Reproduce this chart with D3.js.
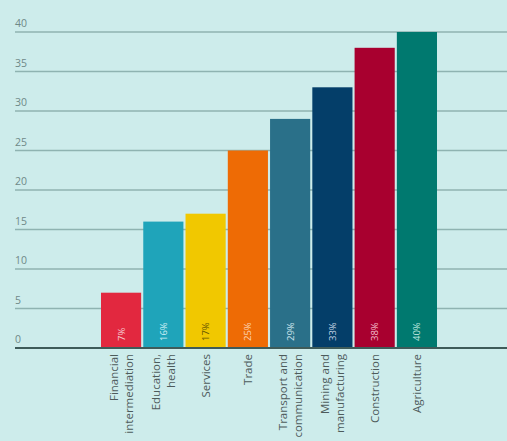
<!DOCTYPE html>
<html><head><meta charset="utf-8">
<script src="https://cdn.jsdelivr.net/npm/d3@7"></script>
<style>html,body{margin:0;padding:0;background:#cdeceb;}svg{display:block;}</style>
</head><body>
<script>
const categories = [["Financial","intermediation"],["Education,","health"],["Services"],["Trade"],["Transport and","communication"],["Mining and","manufacturing"],["Construction"],["Agriculture"]];
const values = [7,16,17,25,29,33,38,40];
const valueLabels = ["7%","16%","17%","25%","29%","33%","38%","40%"];
const colors = ["#e2283f","#1fa4ba","#f1c800","#ee6b05","#2a7089","#043e69","#a8002f","#00796f"];
const labelColors = ["#f6c9cf","#cdeef3","#6a5a00","#fcd3b5","#cfe6ee","#c3d3e3","#f3bfcb","#bfe6df"];
const ticks = [0,5,10,15,20,25,30,35,40];

const W=507,H=441;
const svg=d3.select("body").append("svg").attr("width",W).attr("height",H);
svg.append("rect").attr("width",W).attr("height",H).attr("fill","#cdeceb");

const y=d3.scaleLinear().domain([0,40]).range([348,32]);
const x=d3.scaleBand().domain(d3.range(values.length)).range([101,437]).paddingInner(0.05).paddingOuter(0);

const g=svg.append("g");
const font="'Open Sans', sans-serif";
// gridlines
g.selectAll("line.grid").data(ticks.filter(t=>t>0)).join("line")
 .attr("x1",15).attr("x2",W).attr("y1",d=>y(d)).attr("y2",d=>y(d))
 .attr("stroke","#8fb3b1").attr("stroke-width",1.4);
g.selectAll("text.tick").data(ticks).join("text")
 .attr("x",15).attr("y",d=>y(d)-5).text(d=>d)
 .attr("font-family",font).attr("font-size",10.5).attr("fill","#6f8988");

// bars
g.selectAll("rect.bar").data(values).join("rect")
 .attr("x",(d,i)=>x(i)).attr("width",x.bandwidth())
 .attr("y",d=>y(d)).attr("height",d=>y(0)-y(d))
 .attr("fill",(d,i)=>colors[i]);

// baseline
g.append("line").attr("x1",15).attr("x2",W).attr("y1",y(0)).attr("y2",y(0))
 .attr("stroke","#3e5b59").attr("stroke-width",2);

// value labels
g.selectAll("text.val").data(values).join("text")
 .attr("transform",(d,i)=>`translate(${x(i)+x.bandwidth()/2+3.5},${y(0)-7}) rotate(-90)`)
 .text((d,i)=>valueLabels[i])
 .attr("font-family",font).attr("font-size",9.5)
 .attr("fill",(d,i)=>labelColors[i]);

// category labels
categories.forEach((lines,i)=>{
  const cx=x(i)+x.bandwidth()/2;
  const n=lines.length, lh=15;
  lines.forEach((t,j)=>{
    const off=(j-(n-1)/2)*lh+4;
    g.append("text")
     .attr("transform",`translate(${cx+off},${y(0)+6}) rotate(-90)`)
     .attr("text-anchor","end")
     .attr("font-family",font).attr("font-size",11.5)
     .attr("fill","#4d5b5b").text(t);
  });
});
</script>
</body></html>
